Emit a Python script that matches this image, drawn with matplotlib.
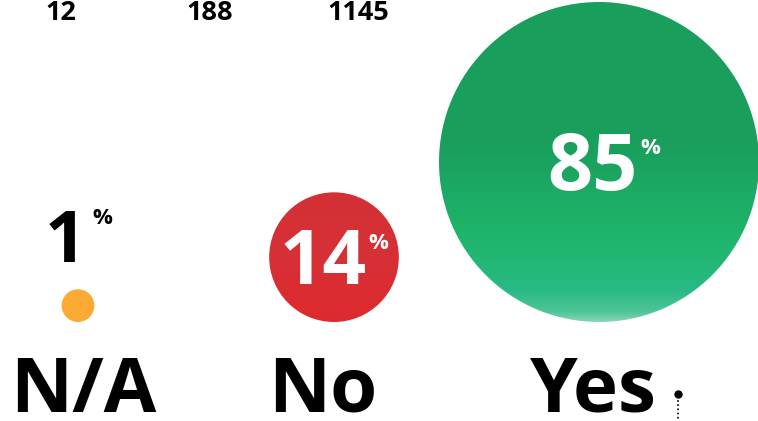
import numpy as np
import matplotlib
matplotlib.use("Agg")
import matplotlib.pyplot as plt
from matplotlib.patches import Circle
from matplotlib.colors import LinearSegmentedColormap

categories = ["N/A", "No", "Yes"]
counts = [12, 188, 1145]
percents = [1, 14, 85]

plt.rcParams['font.family'] = ['Open Sans', 'DejaVu Sans']

W, H = 758, 421
fig = plt.figure(figsize=(W / 100, H / 100), dpi=100)
ax = fig.add_axes([0, 0, 1, 1])
ax.set_xlim(0, W)
ax.set_ylim(H, 0)
ax.set_aspect('equal')
ax.axis('off')

centers_x = [78, 334, 599]
base_y = 322
r_max = 160
count_x = [61, 210, 358]
label_x = [83, 323, 593]

colors = ["#fbaa33", "#d63036", None]

for i, (cat, c, p) in enumerate(zip(categories, counts, percents)):
    r = r_max * np.sqrt(c / max(counts))
    cx, cy = centers_x[i], base_y - r
    if colors[i] is not None:
        if i == 1:
            circ = Circle((cx, cy), r, facecolor='none', edgecolor='none')
            ax.add_patch(circ)
            cmap = LinearSegmentedColormap.from_list('r', ["#d33037", "#d63036", "#df2a2e"])
            grad = np.linspace(0, 1, 256).reshape(-1, 1)
            im = ax.imshow(grad, cmap=cmap, extent=(cx - r, cx + r, cy + r, cy - r),
                           aspect='auto', origin='upper', zorder=2)
            im.set_clip_path(circ)
        else:
            ax.add_patch(Circle((cx, cy), r, facecolor=colors[i], edgecolor='none', zorder=2))
    else:
        circ = Circle((cx, cy), r, facecolor='none', edgecolor='none')
        ax.add_patch(circ)
        cmap = LinearSegmentedColormap.from_list(
            'g', [(0.0, "#1a9e5c"), (0.45, "#1a9f5d"), (0.72, "#1fb46a"),
                  (0.9, "#28ba84"), (0.97, "#4fc598"), (1.0, "#8ad4b6")])
        grad = np.linspace(0, 1, 256).reshape(-1, 1)
        im = ax.imshow(grad, cmap=cmap, extent=(cx - r, cx + r, cy + r, cy - r),
                       aspect='auto', origin='upper', zorder=2)
        im.set_clip_path(circ)

    # count labels at top
    ax.text(count_x[i], 20, f"{c}", ha='center', va='baseline', fontsize=19.5,
            fontweight='bold', color='black', zorder=5)
    # category labels
    ax.text(label_x[i], 412, cat, ha='center', va='baseline', fontsize=55,
            fontweight='bold', color='black', zorder=5)

# percentage labels
pct_pos = [(86, 262, 'black'), (367, 284, 'white'), (638, 190, 'white')]
pct_size = [52, 55, 57]
pct_sup = [(92, 224), (368, 249), (640, 154)]
for i, p in enumerate(percents):
    x, y, col = pct_pos[i]
    ax.text(x, y, f"{p}", ha='right', va='baseline', fontsize=pct_size[i],
            fontweight='bold', color=col, zorder=6)
    sx, sy = pct_sup[i]
    ax.text(sx, sy, "%", ha='left', va='baseline', fontsize=16,
            fontweight='bold', color=col, zorder=6)

# small decorative marker
ax.plot([678, 678], [396, 421], color='black', lw=1.2, linestyle=(0, (1, 1.5)), zorder=5)
ax.plot([678], [394], marker='o', color='black', markersize=5, zorder=6)

fig.savefig("out.png", dpi=100)
